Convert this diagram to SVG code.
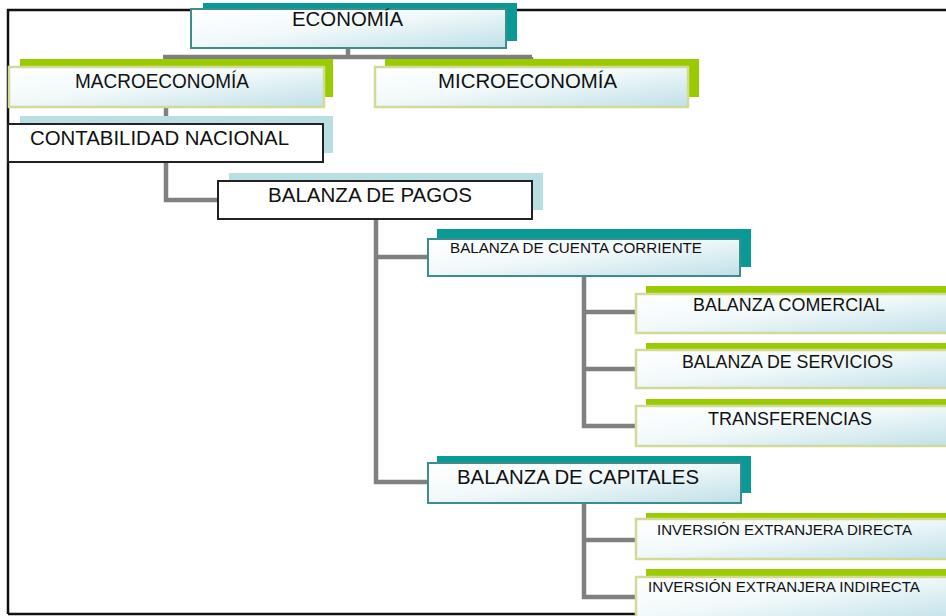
<svg xmlns="http://www.w3.org/2000/svg" width="946" height="616" viewBox="0 0 946 616">
<defs>
<linearGradient id="g" x1="0" y1="0" x2="1" y2="1">
<stop offset="0" stop-color="#ffffff"/>
<stop offset="0.45" stop-color="#f2f9fa"/>
<stop offset="1" stop-color="#bfe0e8"/>
</linearGradient>
<style>
.t{font-family:"Liberation Sans",Arial,sans-serif;fill:#111;}
.teal{fill:#0a9a96;}
.green{fill:#99cc00;}
.lb{fill:#b9dfe2;}
.ft{fill:url(#g);stroke:#3f8c8c;stroke-width:2;}
.fg{fill:url(#g);stroke:#d3da98;stroke-width:2.5;}
.fw{fill:#ffffff;stroke:#222;stroke-width:2;}
.c{fill:none;stroke:#808080;stroke-width:4.5;}
</style>
</defs>
<rect width="946" height="616" fill="#ffffff"/>
<path d="M8,614 V10 H946 M8,614 H636" fill="none" stroke="#111" stroke-width="2.5"/>
<g id="connectors">
<path class="c" d="M348,48 V57 M163,57 H532 M166,57 V67 M531,57 V67"/>
<path class="c" d="M166,107 V124"/>
<path class="c" d="M166,162 V200 H218"/>
<path class="c" d="M376,219 V482 H428 M376,257 H428"/>
<path class="c" d="M584,276 V426 H636 M584,312 H636 M584,369 H636"/>
<path class="c" d="M584,503 V597 H636 M584,540 H636"/>
</g>
<g id="economia">
<rect class="teal" x="203" y="3" width="314" height="38"/>
<rect class="ft" x="191" y="9" width="315" height="39"/>
<text class="t" x="292" y="26" font-size="20" textLength="111" lengthAdjust="spacingAndGlyphs">ECONOMÍA</text>
</g>
<g id="macroeconomia">
<rect class="green" x="20" y="59" width="313" height="38"/>
<rect class="fg" x="9" y="67" width="315" height="40"/>
<text class="t" x="75" y="88" font-size="20" textLength="174" lengthAdjust="spacingAndGlyphs">MACROECONOMÍA</text>
</g>
<g id="microeconomia">
<rect class="green" x="385" y="59" width="314" height="38"/>
<rect class="fg" x="375" y="67" width="313" height="40"/>
<text class="t" x="438" y="88" font-size="20" textLength="179" lengthAdjust="spacingAndGlyphs">MICROECONOMÍA</text>
</g>
<g id="contabilidad">
<rect class="lb" x="20" y="116" width="313" height="37"/>
<rect class="fw" x="8" y="124" width="315" height="38"/>
<text class="t" x="30" y="145" font-size="20" textLength="259" lengthAdjust="spacingAndGlyphs">CONTABILIDAD NACIONAL</text>
</g>
<g id="balanza-pagos">
<rect class="lb" x="229" y="173" width="314" height="37"/>
<rect class="fw" x="218" y="181" width="314" height="38"/>
<text class="t" x="268" y="202" font-size="20" textLength="204" lengthAdjust="spacingAndGlyphs">BALANZA DE PAGOS</text>
</g>
<g id="cuenta-corriente">
<rect class="teal" x="437" y="229" width="314" height="38"/>
<rect class="ft" x="428" y="239" width="312" height="37"/>
<text class="t" x="450" y="253" font-size="15.5" textLength="252" lengthAdjust="spacingAndGlyphs">BALANZA DE CUENTA CORRIENTE</text>
</g>
<g id="comercial">
<rect class="green" x="646" y="286" width="310" height="38"/>
<rect class="fg" x="636" y="294" width="320" height="39"/>
<text class="t" x="693" y="311" font-size="18" textLength="192" lengthAdjust="spacingAndGlyphs">BALANZA COMERCIAL</text>
</g>
<g id="servicios">
<rect class="green" x="646" y="343" width="310" height="38"/>
<rect class="fg" x="636" y="350" width="320" height="38"/>
<text class="t" x="682" y="368" font-size="18" textLength="211" lengthAdjust="spacingAndGlyphs">BALANZA DE SERVICIOS</text>
</g>
<g id="transferencias">
<rect class="green" x="646" y="399" width="310" height="38"/>
<rect class="fg" x="636" y="406" width="320" height="40"/>
<text class="t" x="708" y="425" font-size="18" textLength="164" lengthAdjust="spacingAndGlyphs">TRANSFERENCIAS</text>
</g>
<g id="capitales">
<rect class="teal" x="437" y="456" width="314" height="37"/>
<rect class="ft" x="428" y="463" width="313" height="40"/>
<text class="t" x="457" y="484" font-size="21" textLength="242" lengthAdjust="spacingAndGlyphs">BALANZA DE CAPITALES</text>
</g>
<g id="inversion-directa">
<rect class="green" x="646" y="513" width="310" height="38"/>
<rect class="fg" x="636" y="519" width="320" height="40"/>
<text class="t" x="657" y="535" font-size="15.5" textLength="255" lengthAdjust="spacingAndGlyphs">INVERSIÓN EXTRANJERA DIRECTA</text>
</g>
<g id="inversion-indirecta">
<rect class="green" x="646" y="569" width="310" height="38"/>
<rect class="fg" x="636" y="577" width="320" height="45"/>
<text class="t" x="648" y="592" font-size="15.5" textLength="272" lengthAdjust="spacingAndGlyphs">INVERSIÓN EXTRANJERA INDIRECTA</text>
</g>
</svg>
